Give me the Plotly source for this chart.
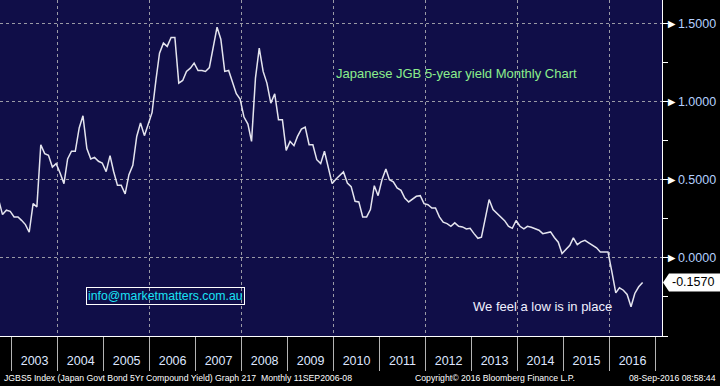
import plotly.graph_objects as go

# Monthly JGB 5-year yield (%), Sep 2002 .. Sep 2016
yield_2002 = [0.370, 0.277, 0.305, 0.298]  # Sep-Dec
yield_2003 = [0.262, 0.262, 0.240, 0.213, 0.164, 0.347, 0.326, 0.724, 0.667, 0.656, 0.581, 0.603]
yield_2004 = [0.543, 0.475, 0.633, 0.682, 0.682, 0.831, 0.909, 0.699, 0.633, 0.643, 0.618, 0.607]
yield_2005 = [0.552, 0.654, 0.554, 0.464, 0.464, 0.409, 0.532, 0.592, 0.777, 0.863, 0.782, 0.858]
yield_2006 = [0.931, 1.140, 1.310, 1.374, 1.353, 1.410, 1.410, 1.118, 1.135, 1.193, 1.214, 1.246]
yield_2007 = [1.199, 1.199, 1.193, 1.218, 1.353, 1.476, 1.399, 1.193, 1.199, 1.122, 1.050, 1.016]
yield_2008 = [0.901, 0.856, 0.745, 1.150, 1.342, 1.193, 1.118, 0.990, 1.050, 0.884, 0.884, 0.688]
yield_2009 = [0.745, 0.718, 0.777, 0.824, 0.837, 0.724, 0.724, 0.628, 0.603, 0.682, 0.569, 0.475]
yield_2010 = [0.505, 0.528, 0.550, 0.479, 0.456, 0.362, 0.358, 0.262, 0.262, 0.309, 0.462, 0.398]
yield_2011 = [0.500, 0.569, 0.500, 0.486, 0.447, 0.432, 0.383, 0.358, 0.377, 0.394, 0.398, 0.347]
yield_2012 = [0.340, 0.319, 0.319, 0.262, 0.228, 0.219, 0.202, 0.224, 0.202, 0.198, 0.185, 0.189]
yield_2013 = [0.155, 0.125, 0.132, 0.250, 0.373, 0.309, 0.287, 0.260, 0.238, 0.202, 0.189, 0.239]
yield_2014 = [0.202, 0.185, 0.202, 0.196, 0.185, 0.177, 0.155, 0.160, 0.166, 0.130, 0.100, 0.028]
yield_2015 = [0.053, 0.080, 0.128, 0.085, 0.102, 0.112, 0.096, 0.079, 0.064, 0.038, 0.038, 0.038]
yield_2016 = [-0.090, -0.224, -0.192, -0.207, -0.234, -0.313, -0.228, -0.185, -0.157]  # Jan-Sep

yearly = {
    2002: yield_2002, 2003: yield_2003, 2004: yield_2004, 2005: yield_2005,
    2006: yield_2006, 2007: yield_2007, 2008: yield_2008, 2009: yield_2009,
    2010: yield_2010, 2011: yield_2011, 2012: yield_2012, 2013: yield_2013,
    2014: yield_2014, 2015: yield_2015, 2016: yield_2016,
}
first_month = {2002: 9}

dates, values = [], []
for yr, vals in yearly.items():
    m0 = first_month.get(yr, 1)
    for i, v in enumerate(vals):
        dates.append(f"{yr}-{m0 + i:02d}-20")
        values.append(v)

year_labels = [str(y) for y in range(2003, 2017)]
year_centers = [f"{y}-07-02" for y in range(2003, 2017)]
grid_years = [f"{y}-01-01" for y in range(2004, 2017, 2)]
ytick_vals = [0.0, 0.5, 1.0, 1.5]
ytick_text = ["0.0000", "0.5000", "1.0000", "1.5000"]
last_value = values[-1]
last_label = "-0.1570"

BG = "#100e48"
GRID = "#9a9aa6"
FONT = "Liberation Sans, Arial, sans-serif"

fig = go.Figure()
fig.add_trace(go.Scatter(x=dates, y=values, mode="lines",
                         line=dict(color="#e4e4ee", width=1.5),
                         hoverinfo="skip", showlegend=False))
# helper trace so the overlay grid axis is drawn
fig.add_trace(go.Scatter(x=[dates[0]], y=[values[0]], xaxis="x2", mode="markers",
                         marker=dict(opacity=0), hoverinfo="skip", showlegend=False))

fig.update_layout(
    width=720, height=386,
    margin=dict(l=0, r=58, t=0, b=50, pad=0),
    paper_bgcolor="black", plot_bgcolor=BG,
    font=dict(family=FONT),
    xaxis=dict(
        type="date", range=["2002-09-30", "2017-02-21"],
        tickmode="array", tickvals=year_centers, ticktext=year_labels,
        ticks="outside", ticklen=13, tickcolor="rgba(0,0,0,0)",
        tickfont=dict(family=FONT, size=12.5, color="#dfe7ff"),
        showgrid=False, zeroline=False,
        showline=True, linecolor="white", linewidth=1,
        minor=dict(tick0="2003-01-01", dtick="M12", ticks="outside",
                   ticklen=34, tickcolor="#b4b4b4", tickwidth=1, showgrid=False),
        fixedrange=True, automargin=False,
    ),
    xaxis2=dict(
        type="date", overlaying="x", matches="x",
        tickmode="array", tickvals=grid_years, showticklabels=False, ticks="",
        showgrid=True, gridcolor=GRID, griddash="dot", gridwidth=1,
        zeroline=False, showline=False, automargin=False,
    ),
    yaxis=dict(
        side="right", range=[-0.5, 1.65],
        tickmode="array", tickvals=ytick_vals,
        ticktext=[f'<span style="color:white">►</span>{t}' for t in ytick_text],
        ticks="", tickfont=dict(family=FONT, size=12.5, color="#b4d0ff"),
        showgrid=True, gridcolor=GRID, griddash="dot", gridwidth=1,
        zeroline=False, showline=True, linecolor="white", linewidth=1,
        minor=dict(tick0=0, dtick=0.25, ticks="outside", ticklen=5,
                   tickcolor="white", showgrid=False),
        fixedrange=True, automargin=False,
    ),
)

# last value pointer box
fig.add_shape(type="path", xref="paper", yref="y", xsizemode="pixel", ysizemode="pixel",
              xanchor=1, yanchor=last_value, path="M1,0 L7,9 L60,9 L60,-9 L7,-9 Z",
              fillcolor="white", line=dict(width=0), layer="above")
fig.add_annotation(x=1, y=last_value, xref="paper", yref="y", xanchor="left", yanchor="middle",
                   xshift=8, text=last_label, showarrow=False,
                   font=dict(family=FONT, size=12.5, color="black"))

fig.add_annotation(x=456 / 662, y=(336 - 73.5) / 336, xref="paper", yref="paper",
                   text="Japanese JGB 5-year yield Monthly Chart", showarrow=False,
                   xanchor="center", yanchor="middle",
                   font=dict(family=FONT, size=13, color="#8cee8c"))
fig.add_annotation(x=542 / 662, y=(336 - 306.5) / 336, xref="paper", yref="paper",
                   text="We feel a low is in place", showarrow=False,
                   xanchor="center", yanchor="middle",
                   font=dict(family=FONT, size=13, color="#f0f0ff"))
fig.add_annotation(x=165 / 662, y=(336 - 295.5) / 336, xref="paper", yref="paper",
                   text="info@marketmatters.com.au", showarrow=False,
                   xanchor="center", yanchor="middle",
                   bordercolor="white", borderwidth=1, borderpad=1,
                   font=dict(family=FONT, size=12.3, color="#19e3f5"))

footer_y = (336 - 378) / 336
fig.add_annotation(x=2 / 662, y=footer_y, xref="paper", yref="paper", xanchor="left", yanchor="middle",
                   text="JGBS5 Index (Japan Govt Bond 5Yr Compound Yield) Graph 217  Monthly 11SEP2006-08",
                   showarrow=False, font=dict(family=FONT, size=8.7, color="white"))
fig.add_annotation(x=413 / 662, y=footer_y, xref="paper", yref="paper", xanchor="left", yanchor="middle",
                   text="Copyright© 2016 Bloomberg Finance L.P.",
                   showarrow=False, font=dict(family=FONT, size=8.7, color="white"))
fig.add_annotation(x=718 / 662, y=footer_y, xref="paper", yref="paper", xanchor="right", yanchor="middle",
                   text="08-Sep-2016 08:58:44",
                   showarrow=False, font=dict(family=FONT, size=8.7, color="white"))

fig.write_html("out.html",
               config={"displayModeBar": False},
               post_script="document.body.style.margin='0';document.body.style.overflow='hidden';")
